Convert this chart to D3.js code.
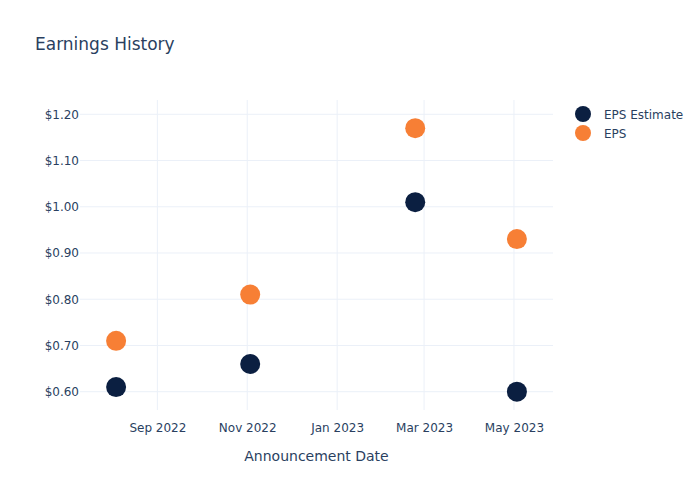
<!DOCTYPE html>
<html>
<head>
<meta charset="utf-8">
<script src="https://cdn.jsdelivr.net/npm/d3@7"></script>
<style>
  html, body { margin: 0; padding: 0; background: #fff; }
  svg { display: block; }
  text { font-family: "DejaVu Sans", sans-serif; fill: #2a3f5f; }
</style>
</head>
<body>
<svg id="chart" width="700" height="500"></svg>
<script>
const dates = ["2022-08-04", "2022-11-03", "2023-02-23", "2023-05-03"];
const epsEstimate = [0.61, 0.66, 1.01, 0.60];
const eps = [0.71, 0.81, 1.17, 0.93];
const seriesNames = ["EPS Estimate", "EPS"];
const seriesColors = ["#0b1f41", "#f77f35"];
const yTicks = [0.6, 0.7, 0.8, 0.9, 1.0, 1.1, 1.2];
const xTicks = ["2022-09-01", "2022-11-01", "2023-01-01", "2023-03-01", "2023-05-01"];

const parse = d3.utcParse("%Y-%m-%d");
const svg = d3.select("#chart");
const W = 700, H = 500;
const m = { l: 80, r: 147, t: 100, b: 90 };
const pw = W - m.l - m.r, ph = H - m.t - m.b;

const dDates = dates.map(parse);
const padDays = 24.5 * 86400000;
const x = d3.scaleUtc()
  .domain([new Date(d3.min(dDates).getTime() - padDays), new Date(d3.max(dDates).getTime() + padDays)])
  .range([m.l, m.l + pw]);
const y = d3.scaleLinear().domain([0.5604, 1.2309]).range([m.t + ph, m.t]);

// grid
const g = svg.append("g");
g.selectAll("line.hg").data(yTicks).join("line")
  .attr("x1", m.l).attr("x2", m.l + pw)
  .attr("y1", d => y(d)).attr("y2", d => y(d))
  .attr("stroke", "#ebf0f8").attr("stroke-width", 1);
g.selectAll("line.vg").data(xTicks.map(parse)).join("line")
  .attr("x1", d => x(d)).attr("x2", d => x(d))
  .attr("y1", m.t).attr("y2", m.t + ph)
  .attr("stroke", "#ebf0f8").attr("stroke-width", 1);

// axes
const yAxis = d3.axisLeft(y).tickValues(yTicks).tickFormat(d => "$" + d3.format(".2f")(d)).tickSize(0).tickPadding(2);
const ya = svg.append("g").attr("transform", `translate(${m.l + 1},0)`).call(yAxis);
ya.select(".domain").remove();
ya.selectAll("text").style("font-size", "12px").attr("fill", "#2a3f5f");

const xAxis = d3.axisBottom(x).tickValues(xTicks.map(parse)).tickFormat(d3.utcFormat("%b %Y")).tickSize(0).tickPadding(13);
const xa = svg.append("g").attr("transform", `translate(0,${m.t + ph})`).call(xAxis);
xa.select(".domain").remove();
xa.selectAll("text").style("font-size", "12px").attr("fill", "#2a3f5f");

// axis title
svg.append("text").attr("x", m.l + pw / 2).attr("y", 461).attr("text-anchor", "middle")
  .style("font-size", "14px").text("Announcement Date");

// title
svg.append("text").attr("x", 35).attr("y", 50).style("font-size", "17px").text("Earnings History");

// points
const series = [epsEstimate, eps];
series.forEach((vals, i) => {
  svg.append("g").selectAll("circle").data(vals).join("circle")
    .attr("cx", (d, j) => x(dDates[j]))
    .attr("cy", d => y(d))
    .attr("r", 10)
    .attr("fill", seriesColors[i]);
});

// legend
const lg = svg.append("g");
seriesNames.forEach((name, i) => {
  lg.append("circle").attr("cx", 583).attr("cy", 114 + i * 19).attr("r", 8).attr("fill", seriesColors[i]);
  lg.append("text").attr("x", 604).attr("y", 118.5 + i * 19).style("font-size", "12px").text(name);
});
</script>
</body>
</html>
